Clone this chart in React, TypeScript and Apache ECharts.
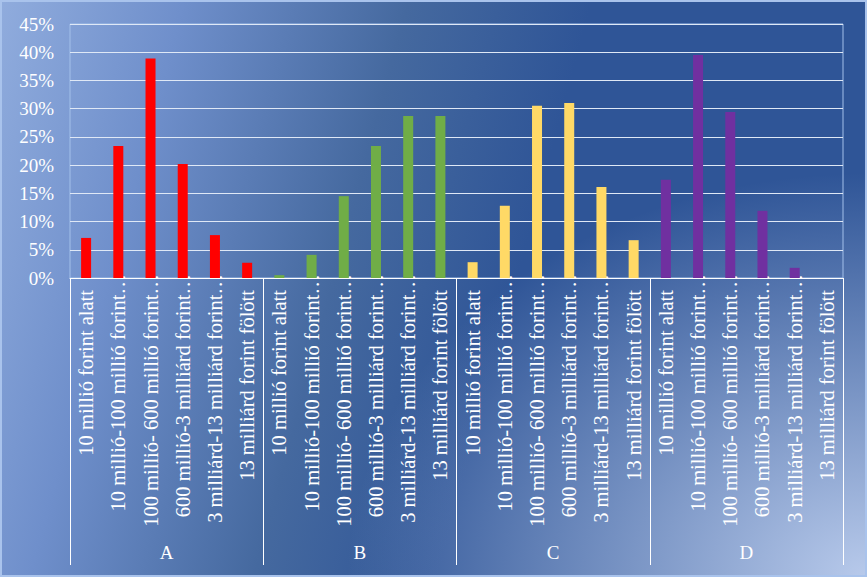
import React, { useEffect, useRef } from "react";
import * as echarts from "echarts";

const categories = [
  "10 millió forint alatt",
  "10 millió-100 millió forint…",
  "100 millió- 600 millió forint…",
  "600 millió-3 milliárd forint…",
  "3 milliárd-13 milliárd forint…",
  "13 milliárd forint fölött",
];
const groups = ["A", "B", "C", "D"];
const valuesA = [7.1, 23.4, 38.9, 20.2, 7.6, 2.7];
const valuesB = [0.5, 4.1, 14.5, 23.4, 28.7, 28.7];
const valuesC = [2.8, 12.8, 30.5, 31.0, 16.1, 6.7];
const valuesD = [17.4, 39.5, 29.4, 11.9, 1.8, 0];
const groupColors = ["#ff0000", "#70ad47", "#ffd966", "#7030a0"];
const yMax = 45;
const yStep = 5;

const FONT = "'Liberation Serif', 'Times New Roman', serif";

export default function App() {
  const ref = useRef<HTMLDivElement>(null);
  useEffect(() => {
    if (!ref.current) return;
    const chart = echarts.init(ref.current, null, { renderer: "svg" });
    const allValues = [valuesA, valuesB, valuesC, valuesD];
    const xData: string[] = [];
    const barData: any[] = [];
    allValues.forEach((vals, gi) => {
      vals.forEach((v, i) => {
        xData.push(categories[i]);
        barData.push({ value: v, itemStyle: { color: groupColors[gi] } });
      });
    });
    const labelStyle = { color: "#ffffff", fontFamily: FONT, fontSize: 20.5 };
    chart.setOption({
      animation: false,
      backgroundColor: "transparent",
      grid: {
        left: 70,
        right: 24,
        top: 24,
        bottom: 299,
        show: true,
        borderColor: "#a3c0ea",
        borderWidth: 1,
        backgroundColor: "transparent",
      },
      graphic: [
        {
          type: "rect",
          shape: { x: 1, y: 1, width: 865, height: 575 },
          style: { fill: "none", stroke: "#a9c3ec", lineWidth: 2 },
          silent: true,
        },
      ],
      xAxis: [
        {
          type: "category",
          data: xData,
          position: "bottom",
          axisLine: { show: true, lineStyle: { color: "#ffffff", width: 1 } },
          axisTick: { show: false },
          axisLabel: {
            interval: 0,
            rotate: 90,
            margin: -4,
            ...labelStyle,
            formatter: (v: string) =>
              v.endsWith("…") ? `{t|${v}}` : `{p|${v}}`,
            rich: {
              t: { ...labelStyle },
              p: { ...labelStyle, padding: [0, 16, 0, 0] },
            },
          },
          splitLine: { show: false },
        },
        {
          type: "category",
          data: groups,
          position: "bottom",
          axisLine: { show: false },
          axisTick: {
            show: true,
            length: 287,
            lineStyle: { color: "#ffffff", width: 1 },
          },
          axisLabel: {
            interval: 0,
            margin: 265,
            color: "#ffffff",
            fontFamily: FONT,
            fontSize: 19,
          },
          splitLine: { show: false },
        },
      ],
      yAxis: {
        type: "value",
        min: 0,
        max: yMax,
        interval: yStep,
        axisLine: { show: false },
        axisTick: { show: false },
        axisLabel: {
          formatter: "{value}%",
          margin: 16,
          color: "#ffffff",
          fontFamily: FONT,
          fontSize: 19,
        },
        splitLine: { lineStyle: { color: "#dfe8f6", width: 1 } },
      },
      series: [
        {
          type: "bar",
          xAxisIndex: 0,
          data: barData,
          barWidth: 10,
        },
      ],
    });
    return () => chart.dispose();
  }, []);
  return (
    <div
      ref={ref}
      style={{
        position: "fixed",
        left: 0,
        top: 0,
        width: 867,
        height: 577,
        background:
          "radial-gradient(ellipse 60% 70% at 100% 100%, rgba(184,202,235,1) 0%, rgba(184,202,235,0) 100%), linear-gradient(105deg, #90acdd 0%, #6f8fcb 18%, #45699f 40%, #2f5597 58%, #2f5597 100%)",
      }}
    />
  );
}
